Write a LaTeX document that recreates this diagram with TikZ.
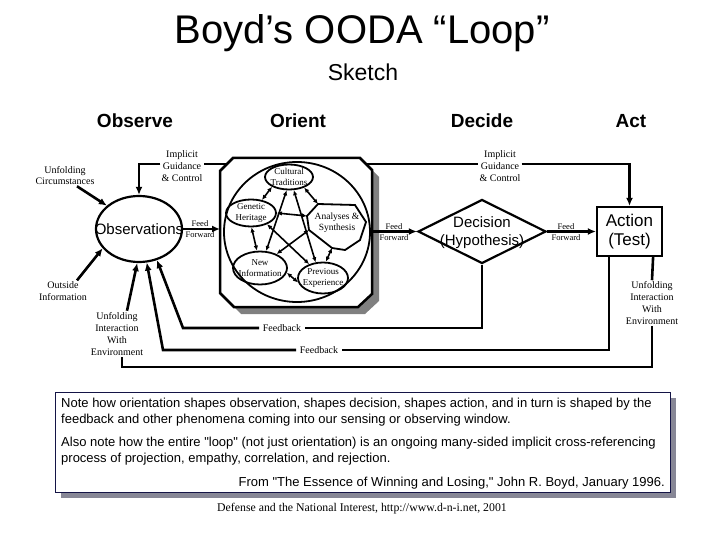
\documentclass[tikz,border=0pt]{standalone}
\usepackage{fontspec}
\setmainfont{Liberation Serif}
\newfontfamily\arial{Liberation Sans}
\usetikzlibrary{arrows.meta,shapes.geometric,calc}
\definecolor{shgray}{RGB}{128,128,128}
\definecolor{navy}{RGB}{20,20,70}
\definecolor{noteshadow}{RGB}{135,135,150}
\begin{document}
\begin{tikzpicture}[x=1pt,y=-1pt,
  lbl/.style={font=\fontsize{10}{11.8}\selectfont, align=center, inner sep=1pt},
  small/.style={font=\fontsize{9}{10.5}\selectfont, align=center, inner sep=0pt},
  ff/.style={font=\fontsize{8.5}{11}\selectfont, align=center, inner sep=0pt},
  conn/.style={line width=2.6pt},
  arr/.style={conn, -{Latex[length=8pt,width=7pt]}},
  inarr/.style={line width=1.6pt, {Latex[length=5pt,width=4.5pt]}-{Latex[length=5pt,width=4.5pt]}},
  hdr/.style={font=\arial\bfseries\fontsize{19}{22}\selectfont},
  big/.style={font=\arial\fontsize{15}{18}\selectfont, align=center},
  soval/.style={ellipse, draw, line width=1.8pt, inner sep=0pt},
  notetxt/.style={font=\arial\fontsize{13}{15}\selectfont, inner sep=0pt},
  fbl/.style={font=\fontsize{10}{11.8}\selectfont, inner sep=3.5pt}
]
\useasboundingbox (0,0) rectangle (720,540);

% titles
\node[font=\arial\fontsize{40}{46}\selectfont] (title) at (362,33) {Boyd’s OODA “Loop”};
\node[font=\arial\fontsize{23}{26}\selectfont] (sketch) at (363,72) {Sketch};
\node[hdr] (hObs) at (135,121) {Observe};
\node[hdr] (hOri) at (298,121) {Orient};
\node[hdr] (hDec) at (482,121) {Decide};
\node[hdr] (hAct) at (631,121) {Act};

% Orient block
\fill[shgray] (240,165) -- (367,165) -- (379,177) -- (379,301) -- (365,314) -- (241,314) -- (227,300) -- (227,178) -- cycle;
\draw[line width=2.5pt, fill=white] (233,158) -- (360,158) -- (372,170) -- (372,294) -- (358,307) -- (234,307) -- (220,293) -- (220,171) -- cycle;
\draw[line width=1.8pt] (297,232) ellipse [x radius=73, y radius=70];
\coordinate (orW) at (220,229);
\coordinate (orE) at (372,231.5);
\coordinate (igL) at (227,164);
\coordinate (igR) at (366,164);

\node[soval, minimum width=48, minimum height=25] (cul) at (289,177) {};
\node[small] (culT) at (cul) {Cultural\\Traditions};
\node[soval, minimum width=50, minimum height=27] (gen) at (251,213) {};
\node[small] (genT) at (gen) {Genetic\\Heritage};
\node[soval, minimum width=54, minimum height=33] (new) at (260,268) {};
\node[small] (newT) at (new) {New\\Information};
\node[soval, minimum width=50, minimum height=31] (pre) at (323,278) {};
\node[small] (preT) at (pre) {Previous\\Experience};
\coordinate (a1) at (307,216);
\coordinate (a2) at (318,204);
\coordinate (a3) at (355,205);
\coordinate (a4) at (366,222);
\coordinate (a5) at (360,240);
\coordinate (a6) at (345,250);
\coordinate (a7) at (332,248);
\coordinate (a8) at (309,230);
\draw[line width=1.8pt] (a1) -- (a2) -- (a3) -- (a4) -- (a5) -- (a6) -- (a7) -- (a8) -- cycle;
\node[small, font=\fontsize{9.5}{11}\selectfont] (anaT) at (337,223) {Analyses \&\\Synthesis};

\draw[inarr] (cul.-150) -- (gen.50);
\draw[inarr] (cul.-35) -- (a2);
\draw[inarr] (gen.0) -- (a1);
\draw[inarr] (gen.-88) -- (new.100);
\draw[inarr] (a7) -- (pre.80);
\draw[inarr] (new.-10) -- (pre.190);
\draw[inarr] (cul.-100) -- (new.70);
\draw[inarr] (cul.-70) -- (pre.115);
\draw[inarr] (gen.-35) -- (pre.135);
\draw[inarr] (a8) -- (new.40);

% Observe
\node[ellipse, draw, line width=2.2pt, minimum width=86, minimum height=66, inner sep=0pt] (obs) at (139,229) {};
\node[big] (obsT) at (obs) {Observations};

% Decide
\node[diamond, draw, line width=2.2pt, minimum width=128, minimum height=64, inner sep=0pt] (dec) at (482,231.5) {};
\node[big] (decT) at (482,233) {Decision\\(Hypothesis)};

% Act
\node[draw, line width=2.2pt, minimum width=65, minimum height=49, inner sep=0pt, align=center,
      font=\arial\fontsize{17}{19}\selectfont] (act) at (629.5,231.5) {Action\\(Test)};

% feed forward
\draw[arr] (obs.east) -- (orW);
\node[ff] (ff1) at (200,229) {Feed\\Forward};
\draw[arr] (orE) -- (dec.west);
\node[ff] (ff2) at (394,232) {Feed\\Forward};
\draw[arr] (dec.east) -- (act.west);
\node[ff] (ff3) at (566,232) {Feed\\Forward};

% implicit guidance
\node[lbl] (igLT) at (182,166) {Implicit\\Guidance\\\& Control};
\draw[conn] (igL) -- (igL -| igLT.east);
\draw[arr] (igL -| igLT.west) -| (obs.north);
\node[lbl] (igRT) at (500,166) {Implicit\\Guidance\\\& Control};
\draw[conn] (igR) -- (igR -| igRT.west);
\draw[arr] (igR -| igRT.east) -| (act.north);

% external inputs
\node[lbl, font=\fontsize{10}{11}\selectfont] (uc) at (65,176) {Unfolding\\Circumstances};
\draw[arr] ($(uc.south)+(12,0)$) -- (obs.144);
\node[lbl] (oi) at (63,291) {Outside\\Information};
\draw[arr] ($(oi.north)+(14,0)$) -- (obs.208);
\node[lbl, font=\fontsize{10}{12.3}\selectfont] (uiL) at (117,334) {Unfolding\\Interaction\\With\\Environment};
\draw[arr] ($(uiL.north)+(10,0)$) -- (obs.-93);

% feedback
\node[fbl] (fb1) at (282,328) {Feedback};
\coordinate (c1) at (183,328);
\draw[conn] (dec.south) |- (fb1.east);
\draw[arr] (fb1.west) -- (c1) -- (obs.-60);
\node[fbl] (fb2) at (319,350) {Feedback};
\coordinate (c2) at (163,350);
\draw[conn] ($(act.south west)+(13,0)$) |- (fb2.east);
\draw[arr] (fb2.west) -- (c2) -- (obs.-77);

% unfolding interaction (right)
\node[lbl, font=\fontsize{10}{12}\selectfont] (uiR) at (652,303) {Unfolding\\Interaction\\With\\Environment};
\draw[conn] ($(act.south east)+(-10,0)$) -- (uiR.north);
\coordinate (c3) at (122,367);
\draw[conn] (uiR.south) |- (c3) -- (c3 |- uiL.south);

% note box
\fill[noteshadow] (61,398) rectangle (676,498);
\node[draw=navy, line width=1.2pt, fill=white, minimum width=615, minimum height=100, inner sep=0pt, anchor=north west] (note) at (55,392) {};
\node[notetxt, anchor=base west] (n1) at (61,407) {Note how orientation shapes observation, shapes decision, shapes action, and in turn is shaped by the};
\node[notetxt, anchor=base west] (n2) at (61,423) {feedback and other phenomena coming into our sensing or observing window.};
\node[notetxt, anchor=base west] (n3) at (61,446) {Also note how the entire "loop" (not just orientation) is an ongoing many-sided implicit cross-referencing};
\node[notetxt, anchor=base west] (n4) at (61,462) {process of projection, empathy, correlation, and rejection.};
\node[notetxt, anchor=base east] (n5) at (665,486) {From "The Essence of Winning and Losing," John R. Boyd, January 1996.};

\node[font=\fontsize{11.8}{13}\selectfont] (foot) at (362,509) {Defense and the National Interest, http://www.d-n-i.net, 2001};
\end{tikzpicture}
\end{document}
